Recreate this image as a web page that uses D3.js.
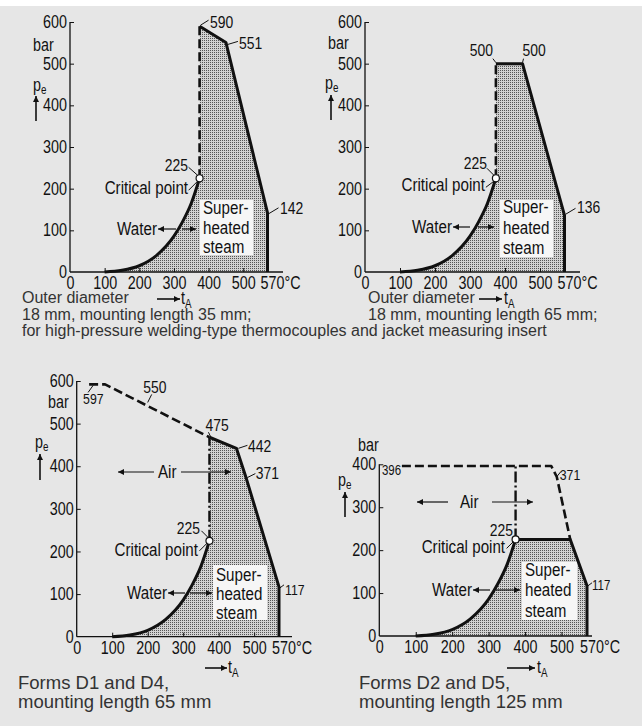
<!DOCTYPE html>
<html><head><meta charset="utf-8">
<script src="https://cdn.jsdelivr.net/npm/d3@7"></script>
<style>
body{margin:0;background:#e6e6e6;}
svg{display:block}
.nar{font-family:"Liberation Sans",Arial,Helvetica,sans-serif;fill:#111}
.cap{font-family:"Liberation Sans",Arial,Helvetica,sans-serif;fill:#333}
</style></head><body>
<svg id="c" width="642" height="726"></svg>
<script>
// ---------- data ----------
const satT = [100, 150, 200, 250, 300, 325, 350, 374];
const satP = [0, 4, 15, 40, 86, 121, 165, 225];
const critical = [374, 225];

const xTicks = [0, 100, 200, 300, 400, 500, 570];
const xTickLabels = ["0", "100", "200", "300", "400", "500", "570°C"];
const yTicks600 = [0, 100, 200, 300, 400, 500, 600];
const yTicks400 = [0, 100, 200, 300, 400];

// panel 1: outer diameter 18 mm, mounting length 35 mm
const p1Dashed = [[374, 225], [374, 590]];
const p1Solid = [[374, 590], [450, 551], [570, 142], [570, 0]];
// panel 2: outer diameter 18 mm, mounting length 65 mm
const p2Dashed = [[374, 225], [374, 500]];
const p2Solid = [[374, 500], [450, 500], [570, 136], [570, 0]];
// panel 3: forms D1 and D4
const p3Dashed = [[35, 592], [80, 592], [374, 468]];
const p3DashDot = [[374, 225], [374, 468]];
const p3Solid = [[374, 468], [450, 442], [478, 371], [570, 117], [570, 0]];
// panel 4: forms D2 and D5
const p4Dashed = [[62, 396], [472, 396], [487, 371], [524, 225]];
const p4DashDot = [[374, 225], [374, 396]];
const p4Solid = [[374, 225], [524, 225], [570, 117], [570, 0]];

// value labels: [t, p, text]
const p1Values = [[374, 590, "590"], [450, 551, "551"], [570, 142, "142"], [374, 225, "225"]];
const p2Values = [[374, 500, "500"], [450, 500, "500"], [570, 136, "136"], [374, 225, "225"]];
const p3Values = [[35, 592, "597"], [200, 545, "550"], [374, 468, "475"], [450, 442, "442"], [478, 371, "371"], [570, 117, "117"], [374, 225, "225"]];
const p4Values = [[62, 396, "396"], [487, 371, "371"], [570, 117, "117"], [374, 225, "225"]];

const captions1 = ["Outer diameter", "18 mm, mounting length 35 mm;", "for high-pressure welding-type thermocouples and jacket measuring insert"];
const captions2 = ["Outer diameter", "18 mm, mounting length 65 mm;"];
const captions3 = ["Forms D1 and D4,", "mounting length 65 mm"];
const captions4 = ["Forms D2 and D5,", "mounting length 125 mm"];

// ---------- layout ----------
const SX = 0.82; // condensed look
const panels = [
  { xr: [70, 267.5], yr: [272, 22], yMax: 600, yTicks: yTicks600, xEnd: 283,
    dashed: p1Dashed, dashdot: null, solid: p1Solid, values: p1Values,
    vpos: [ // dx, dy, anchor, size, leader
      [10.5, 2, "start", 17, [1, -1, 9, -6]],
      [13, 6.5, "start", 17, [2, 2, 12, -1]],
      [12.5, 1.5, "start", 17, [1, 1, 11, -5]],
      [-11.5, -7, "end", 17, [-2, -3, -11, -11]]],
    crit: [-11.5, 16, [-2, 3, -11, 12]],
    water: { tx: 157, ty: 235, ay: 229, l: [176, 158], r: [182, 196] },
    box: [200, 200, 53, 55, [14, 34, 53]],
    bar: [33, 51], pe: [33, 91], peArrow: [36, 121, 96],
    tA: [157, 180, 299, 181, 304],
    cap: { x: 22, base: [303, 320, 336], size: 16, lines: captions1 } },
  { xr: [365, 564.5], yr: [272, 22], yMax: 600, yTicks: yTicks600, xEnd: 580,
    dashed: p2Dashed, dashdot: null, solid: p2Solid, values: p2Values,
    vpos: [
      [-3, -7.5, "end", 17, [0, -1, -3, -5]],
      [0, -7.5, "start", 17, [0, -1, 1, -5]],
      [12.5, -2, "start", 17, [1, -1, 11, -7]],
      [-9, -9, "end", 17, [-2, -3, -9, -10]]],
    crit: [-11, 13, [-2, 3, -10, 9]],
    water: { tx: 452, ty: 233, ay: 227, l: [470, 453], r: [478, 494] },
    box: [500, 200, 53, 57, [13, 34, 54]],
    bar: [328, 49], pe: [325, 89], peArrow: [331, 120, 95],
    tA: [479, 502, 299, 504, 304],
    cap: { x: 368, base: [303, 320], size: 16, lines: captions2 } },
  { xr: [76.7, 279], yr: [636.7, 381], yMax: 600, yTicks: yTicks600, xEnd: 292,
    dashed: p3Dashed, dashdot: p3DashDot, solid: p3Solid, values: p3Values,
    vpos: [
      [-6, 19.5, "start", 15, [-1, 8, 4, 1]],
      [-4.5, -11.5, "start", 17, [0, -2, 4, -10]],
      [-4, -6, "start", 17, [1.5, 0, -1, -5]],
      [11.5, 3.5, "start", 17, [2, 0, 11, -3]],
      [9.5, 0.5, "start", 17, [1, -1, 9, -5]],
      [6, 8, "start", 15, [1, 1, 5, -2]],
      [-9.5, -7, "end", 17, [-1, -3, -8, -10]]],
    crit: [-11.5, 15, [-2, 2, -10, 10]],
    water: { tx: 167, ty: 599, ay: 593, l: [185, 168], r: [190, 212] },
    air: { tx: 158, ty: 478, ay: 472, l: [154, 118], r: [181, 231] },
    box: [213, 565, 54, 55, [16, 35, 54]],
    bar: [48, 408], pe: [35, 448], peArrow: [40, 480, 454],
    tA: [205, 227, 668, 228, 673],
    cap: { x: 18, base: [689, 708], size: 18.5, lines: captions3 } },
  { xr: [379.3, 587], yr: [636, 464.3], yMax: 400, yTicks: yTicks400, xEnd: 592,
    dashed: p4Dashed, dashdot: p4DashDot, solid: p4Solid, values: p4Values,
    vpos: [
      [-20, 9, "start", 14, null],
      [3, 3.5, "start", 15, [0, 0, 4, -5]],
      [5, 4, "start", 14, [1, 0, 5, -3]],
      [-2.5, -3.5, "end", 17, null]],
    crit: [-10.5, 13.5, [-2, 2, -9, 9]],
    water: { tx: 472, ty: 596, ay: 590, l: [490, 473], r: [496, 520] },
    air: { tx: 460, ty: 508, ay: 502, l: [448, 417], r: [492, 533] },
    box: [522, 562, 55, 58, [14, 34, 55]],
    bar: [358, 451], pe: [338, 486], peArrow: [345, 517, 492],
    tA: [507, 535, 668, 537, 673],
    cap: { x: 359, base: [689, 708], size: 18.5, lines: captions4 } }
];

// ---------- drawing ----------
const svg = d3.select("#c");
svg.append("rect").attr("width", 642).attr("height", 726).attr("fill", "#e6e6e6");
svg.append("rect").attr("width", 642).attr("height", 6).attr("fill", "#ffffff");

const defs = svg.append("defs");
const pat = defs.append("pattern").attr("id", "dots").attr("patternUnits", "userSpaceOnUse")
  .attr("width", 2).attr("height", 2);
pat.append("rect").attr("width", 2).attr("height", 2).attr("fill", "#d2d2d2");
pat.append("rect").attr("width", 1).attr("height", 1).attr("fill", "#555");
defs.append("marker").attr("id", "ah").attr("viewBox", "0 0 10 10").attr("refX", 10).attr("refY", 5)
  .attr("markerUnits", "userSpaceOnUse").attr("markerWidth", 9).attr("markerHeight", 6)
  .attr("orient", "auto").append("path").attr("d", "M0,0L10,5L0,10z").attr("fill", "#111");

function arrow(g, x1, y1, x2, y2, w) {
  g.append("line").attr("x1", x1).attr("y1", y1).attr("x2", x2).attr("y2", y2)
    .attr("stroke", "#111").attr("stroke-width", w || 1.2).attr("marker-end", "url(#ah)");
}
// condensed text
function nt(g, x, y, str, size, anchor) {
  return g.append("text").attr("class", "nar")
    .attr("transform", `translate(${x},${y}) scale(${SX},1)`)
    .attr("text-anchor", anchor || "start").attr("font-size", size).text(str);
}

panels.forEach(cfg => {
  const x = d3.scaleLinear().domain([0, 570]).range(cfg.xr);
  const y = d3.scaleLinear().domain([0, cfg.yMax]).range(cfg.yr);
  const g = svg.append("g");
  const satPts = satT.map((t, i) => [x(t), y(satP[i])]);
  const lineGen = d3.line().x(d => x(d[0])).y(d => y(d[1]));
  const satPath = d3.line().curve(d3.curveMonotoneX)(satPts);

  // fill area
  const fillPath = satPath + cfg.solid.map(d => "L" + x(d[0]) + "," + y(d[1])).join("") + "Z";
  g.append("path").attr("d", fillPath).attr("fill", "url(#dots)");

  // white label box
  const b = cfg.box;
  g.append("rect").attr("x", b[0]).attr("y", b[1]).attr("width", b[2]).attr("height", b[3]).attr("fill", "#f6f6f6");
  ["Super-", "heated", "steam"].forEach((s, i) => nt(g, b[0] + 3, b[1] + b[4][i], s, 18.5));

  // axes
  const yAx = g.append("g").attr("transform", `translate(${cfg.xr[0]},0)`)
    .call(d3.axisLeft(y).tickValues(cfg.yTicks).tickSize(-4).tickSizeOuter(0).tickPadding(4));
  const xAx = g.append("g").attr("transform", `translate(0,${cfg.yr[0]})`)
    .call(d3.axisBottom(x).tickValues(xTicks).tickSize(-4).tickSizeOuter(0).tickPadding(5)
      .tickFormat((d, i) => xTickLabels[i]));
  [yAx, xAx].forEach(a => {
    a.select(".domain").remove();
    a.selectAll("line").attr("stroke", "#111").attr("stroke-width", 1);
    a.selectAll("text").attr("class", "nar").attr("font-size", 17.5).attr("fill", "#111")
      .attr("transform", `scale(${SX},1)`);
  });
  yAx.selectAll("text").attr("x", -3 / SX);
  xAx.selectAll(".tick").filter(d => d === 570).select("text").attr("text-anchor", "start").attr("x", -7.5 / SX);
  xAx.selectAll(".tick").filter(d => d === 0).select("line").remove();
  yAx.selectAll(".tick").filter(d => d === 0).select("line").remove();
  g.append("line").attr("x1", cfg.xr[0]).attr("x2", cfg.xEnd).attr("y1", cfg.yr[0]).attr("y2", cfg.yr[0])
    .attr("stroke", "#111").attr("stroke-width", 1.3);
  g.append("line").attr("x1", cfg.xr[0]).attr("x2", cfg.xr[0]).attr("y1", cfg.yr[0]).attr("y2", cfg.yr[1])
    .attr("stroke", "#111").attr("stroke-width", 1.3);

  // boundary lines
  g.append("path").attr("d", satPath).attr("fill", "none").attr("stroke", "#111").attr("stroke-width", 3);
  g.append("path").attr("d", lineGen(cfg.solid)).attr("fill", "none").attr("stroke", "#111")
    .attr("stroke-width", 3).attr("stroke-linejoin", "round");
  g.append("path").attr("d", lineGen(cfg.dashed)).attr("fill", "none").attr("stroke", "#111")
    .attr("stroke-width", 2.6).attr("stroke-dasharray", "9,4").attr("stroke-linejoin", "round");
  if (cfg.dashdot) {
    g.append("path").attr("d", lineGen(cfg.dashdot)).attr("fill", "none").attr("stroke", "#111")
      .attr("stroke-width", 2.4).attr("stroke-dasharray", "11,3,2,3");
  }
  // critical point
  g.append("circle").attr("cx", x(critical[0])).attr("cy", y(critical[1])).attr("r", 3.5)
    .attr("fill", "#fff").attr("stroke", "#111").attr("stroke-width", 1.2);

  // value labels
  cfg.values.forEach((v, i) => {
    const px = x(v[0]), py = y(v[1]);
    const [dx, dy, anchor, size, lead] = cfg.vpos[i];
    nt(g, px + dx, py + dy, v[2], size, anchor);
    if (lead) g.append("line").attr("x1", px + lead[0]).attr("y1", py + lead[1])
      .attr("x2", px + lead[2]).attr("y2", py + lead[3]).attr("stroke", "#111").attr("stroke-width", 1);
  });
  // critical point label
  const cx = x(critical[0]), cy = y(critical[1]);
  nt(g, cx + cfg.crit[0], cy + cfg.crit[1], "Critical point", 18.5, "end");
  g.append("line").attr("x1", cx + cfg.crit[2][0]).attr("y1", cy + cfg.crit[2][1])
    .attr("x2", cx + cfg.crit[2][2]).attr("y2", cy + cfg.crit[2][3]).attr("stroke", "#111").attr("stroke-width", 1);

  // water / air arrows
  const w = cfg.water;
  nt(g, w.tx, w.ty, "Water", 18.5, "end");
  arrow(g, w.l[0], w.ay, w.l[1], w.ay);
  arrow(g, w.r[0], w.ay, w.r[1], w.ay);
  if (cfg.air) {
    const a = cfg.air;
    nt(g, a.tx, a.ty, "Air", 18.5);
    arrow(g, a.l[0], a.ay, a.l[1], a.ay);
    arrow(g, a.r[0], a.ay, a.r[1], a.ay);
  }

  // axis titles
  nt(g, cfg.bar[0], cfg.bar[1], "bar", 17.5);
  const pe = nt(g, cfg.pe[0], cfg.pe[1], "", 17.5);
  pe.append("tspan").text("p");
  pe.append("tspan").attr("font-size", 12).attr("dy", 3).text("e");
  arrow(g, cfg.peArrow[0], cfg.peArrow[1], cfg.peArrow[0], cfg.peArrow[2], 1.6);
  const tA = nt(g, cfg.tA[3], cfg.tA[4], "", 17.5);
  tA.append("tspan").text("t");
  tA.append("tspan").attr("font-size", 12).attr("dy", 4).text("A");
  arrow(g, cfg.tA[0], cfg.tA[2], cfg.tA[1], cfg.tA[2], 1.6);

  // captions
  cfg.cap.lines.forEach((s, i) => {
    g.append("text").attr("class", "cap").attr("x", cfg.cap.x).attr("y", cfg.cap.base[i])
      .attr("font-size", cfg.cap.size).text(s);
  });
});
</script>
</body></html>
